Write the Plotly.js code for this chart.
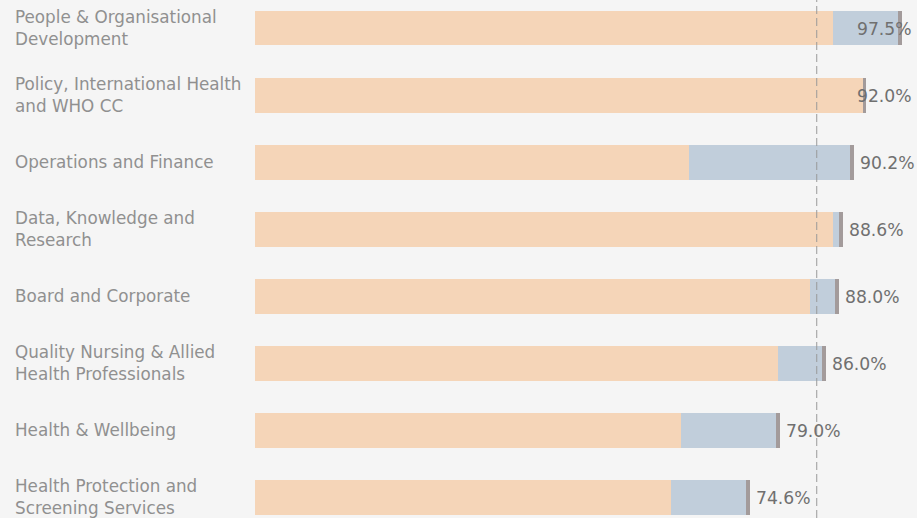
<!DOCTYPE html>
<html>
<head>
<meta charset="utf-8">
<script src="https://cdn.plot.ly/plotly-3.0.1.min.js"></script>
<style>
  html, body { margin: 0; padding: 0; background: #f4f4f4; }
  #chart { width: 917px; height: 518px; }
</style>
</head>
<body>
<div id="chart"></div>
<script>
// ---- data ----
const categories = [
  "People & Organisational<br>Development",
  "Policy, International Health<br>and WHO CC",
  "Operations and Finance",
  "Data, Knowledge and<br>Research",
  "Board and Corporate",
  "Quality Nursing & Allied<br>Health Professionals",
  "Health & Wellbeing",
  "Health Protection and<br>Screening Services"
];
const totals   = [97.5, 92.0, 90.2, 88.6, 88.0, 86.0, 79.0, 74.6];
const segPeach = [87.1, 91.5, 65.4, 87.1, 83.6, 78.8, 64.1, 62.7];
const segBlue  = [9.8, 0.0, 24.2, 0.9, 3.8, 6.6, 14.3, 11.3];
const segGrey  = [0.6, 0.5, 0.6, 0.6, 0.6, 0.6, 0.6, 0.6];
const targetLine = 84.6;
const labelClampAbove = 91;   // labels for longer bars are pinned to the right edge

const rows = categories.map((_, i) => i);
const barWidth = 0.52;

const traces = [
  { type: 'bar', orientation: 'h', y: rows, x: segPeach, width: barWidth,
    marker: { color: '#f5d5b8' }, hoverinfo: 'skip' },
  { type: 'bar', orientation: 'h', y: rows, x: segBlue, width: barWidth,
    marker: { color: '#c1cedb' }, hoverinfo: 'skip' },
  { type: 'bar', orientation: 'h', y: rows, x: segGrey, width: barWidth,
    marker: { color: '#a39b9b' }, hoverinfo: 'skip' }
];

const annotations = [];
categories.forEach((c, i) => {
  annotations.push({
    xref: 'paper', x: 0, xshift: -242, xanchor: 'left',
    yref: 'y', y: i, yanchor: 'middle',
    text: c, showarrow: false, align: 'left',
    font: { family: 'DejaVu Sans, Verdana, sans-serif', size: 16.8, color: '#909090' }
  });
  const lab = totals[i].toFixed(1) + '%';
  if (totals[i] > labelClampAbove) {
    annotations.push({
      xref: 'paper', x: 1, xshift: -3, xanchor: 'right',
      yref: 'y', y: i, yanchor: 'middle', yshift: -1,
      text: lab, showarrow: false,
      font: { family: 'DejaVu Sans, Verdana, sans-serif', size: 17.2, color: '#707070' }
    });
  } else {
    annotations.push({
      xref: 'x', x: totals[i], xshift: 4, xanchor: 'left',
      yref: 'y', y: i, yanchor: 'middle', yshift: -1,
      text: lab, showarrow: false,
      font: { family: 'DejaVu Sans, Verdana, sans-serif', size: 17.2, color: '#707070' }
    });
  }
});

const layout = {
  width: 917, height: 518,
  margin: { l: 255, r: 0, t: 0, b: 0, pad: 0 },
  paper_bgcolor: '#f5f5f5', plot_bgcolor: '#f5f5f5',
  barmode: 'stack', bargap: 0,
  showlegend: false,
  xaxis: { range: [0, 99.7], showgrid: false, zeroline: false, showticklabels: false, ticks: '', showline: false, fixedrange: true },
  yaxis: { range: [7.306, -0.4175], showgrid: false, zeroline: false, showticklabels: false, ticks: '', showline: false, fixedrange: true },
  shapes: [{
    type: 'line', xref: 'x', x0: targetLine, x1: targetLine, yref: 'paper', y0: 0, y1: 1,
    line: { color: '#9a9a9a', width: 1, dash: '8px,4px' }, layer: 'above'
  }],
  annotations: annotations,
  font: { family: 'DejaVu Sans, Verdana, sans-serif' }
};

Plotly.newPlot('chart', traces, layout, { displayModeBar: false, staticPlot: true });
</script>
</body>
</html>
